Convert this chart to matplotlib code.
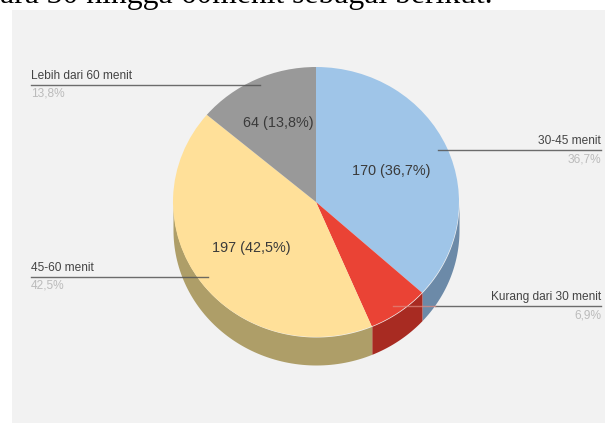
import numpy as np
import matplotlib.pyplot as plt
from matplotlib.patches import Rectangle

categories = ['30-45 menit', 'Kurang dari 30 menit', '45-60 menit', 'Lebih dari 60 menit']
counts = [170, 32, 197, 64]
percent_labels = ['36,7%', '6,9%', '42,5%', '13,8%']
count_labels = ['170 (36,7%)', '', '197 (42,5%)', '64 (13,8%)']

colors = ['#9FC5E8', '#EA4335', '#FFE099', '#999999']
side_colors = ['#6C8AA8', '#A82B22', '#AE9E68', '#6E6E6E']

W, H = 605, 423
sans = 'Liberation Sans'

fig = plt.figure(figsize=(W / 100, H / 100), dpi=100, facecolor='white')

# page layer in pixel coords
ax = fig.add_axes([0, 0, 1, 1])
ax.set_xlim(0, W)
ax.set_ylim(H, 0)
ax.axis('off')
ax.add_patch(Rectangle((12, 10), W - 12, H - 10, color='#F2F2F2', lw=0, zorder=0))
ax.text(0, 3.5, 'ara 30 hingga 60menit sebagai berikut.', family='Liberation Serif',
        fontsize=22.8, color='black', ha='left', va='baseline', zorder=1)

# pie layer, ellipse squashed by hand
cx, cy, rx, ry, depth = 316, 202, 143, 135, 28
pie = fig.add_axes([(cx - rx) / W, 1 - (cy + ry + depth) / H, 2 * rx / W, (2 * ry + depth) / H])
pie.set_zorder(1)
pie.patch.set_visible(False)
d = depth / ry

start = 90
edges = [start]
for c in counts:
    edges.append(edges[-1] - 360 * c / sum(counts))

# sides first
for i in range(len(counts)):
    a0, a1 = np.mod(edges[i + 1], 360), np.mod(edges[i], 360)
    if a1 < a0:
        a1 += 360
    lo, hi = max(a0, 180), min(a1, 360)
    if hi > lo:
        t = np.radians(np.linspace(lo, hi, 80))
        pie.fill_between(np.cos(t), np.sin(t), np.sin(t) - d, color=side_colors[i], lw=0)

pie.pie(counts, colors=colors, startangle=90, counterclock=False, radius=1,
        center=(0, 0), wedgeprops={'linewidth': 0})
pie.set_aspect('auto')
pie.set_xlim(-1, 1)
pie.set_ylim(-1 - d, 1)
pie.axis('off')

# labels layer on top
top = fig.add_axes([0, 0, 1, 1])
top.set_xlim(0, W)
top.set_ylim(H, 0)
top.axis('off')
top.patch.set_visible(False)
top.set_zorder(2)

count_pos = [(391, 171), None, (251, 248), (278, 123)]
for lab, p in zip(count_labels, count_pos):
    if p:
        top.text(p[0], p[1], lab, family=sans, fontsize=10.4, color='#3A3A3A',
                 ha='center', va='center')

# leader lines: x from, x to, y, text x, alignment
leaders = [(438, 601, 150, 601, 'right'), (435, 601, 306, 601, 'right'),
           (208, 31, 277, 31, 'left'), (260, 31, 85, 31, 'left')]
for i, (x0, x1, y, tx, ha) in enumerate(leaders):
    top.plot([x0, x1], [y, y], color='#555555', lw=1, alpha=0.85)
    top.text(tx, y - 3, categories[i], family=sans, fontsize=8.6, color='#444444', ha=ha, va='bottom')
    top.text(tx, y + 3, percent_labels[i], family=sans, fontsize=8.6, color='#BBBBBB', ha=ha, va='top')
# the Kurang leader fades out over the red slice
top.plot([393, 435], [306, 306], color='#E08A80', lw=1, alpha=0.7)

fig.savefig('out.png', dpi=100, facecolor='white')
